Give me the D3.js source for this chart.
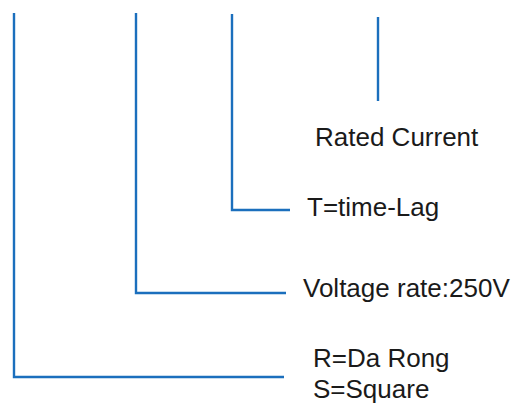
<!DOCTYPE html>
<meta charset='utf-8'>
<html>
  <head>
    <script src="https://d3js.org/d3.v7.min.js"></script>
    <style>
      body { margin: 0; background: #fff; }
      text { font-family: "Liberation Sans", Arial, sans-serif; fill: #1a1a1a; }
    </style>
  </head>
  <body>
    <div id="chart"></div>
    <script>
        // leads of the code, left to right
        var leadX = [14, 136, 232, 378]
        var leadTop = [13, 13, 14, 17]
        var leadBottom = [377, 293, 210, 101]
        var leadEnd = [284, 286, 290, null]
        // label text per lead (several lines allowed)
        var labels = [["R=Da Rong", "S=Square"], ["Voltage rate:250V"], ["T=time-Lag"], ["Rated Current"]]
        var labelX = [313, 303, 307, 315]
        var labelY = [367, 297, 216, 146]

        var w = 521, h = 403

        var x = d3.scaleLinear().domain([0, 521]).range([0, w])
        var y = d3.scaleLinear().domain([0, 403]).range([0, h])

        var svg = d3.select('#chart').append('svg')
            .attr('width', w)
            .attr('height', h)

        var leads = leadX.map(function (d, i) {
            return { x: d, top: leadTop[i], bottom: leadBottom[i], end: leadEnd[i] }
        })

        // connector lines
        svg.selectAll('path.lead')
            .data(leads)
            .enter()
            .append('path')
            .attr('class', 'lead')
            .attr('fill', 'none')
            .attr('stroke', '#1b6fbd')
            .attr('stroke-width', 2.4)
            .attr('d', function (d) {
                var p = 'M' + x(d.x) + ',' + y(d.top) + 'V' + y(d.bottom)
                if (d.end != null) p += 'H' + x(d.end)
                return p
            })

        // labels
        var lab = svg.selectAll('text.label')
            .data(labels)
            .enter()
            .append('text')
            .attr('class', 'label')
            .attr('x', function (d, i) { return x(labelX[i]) })
            .attr('y', function (d, i) { return y(labelY[i]) })
            .style('font-size', '26px')

        lab.selectAll('tspan')
            .data(function (d) { return d })
            .enter()
            .append('tspan')
            .attr('x', function () { return d3.select(this.parentNode).attr('x') })
            .attr('dy', function (d, i) { return i === 0 ? 0 : 31 })
            .text(function (d) { return d })
    </script>
  </body>
</html>
